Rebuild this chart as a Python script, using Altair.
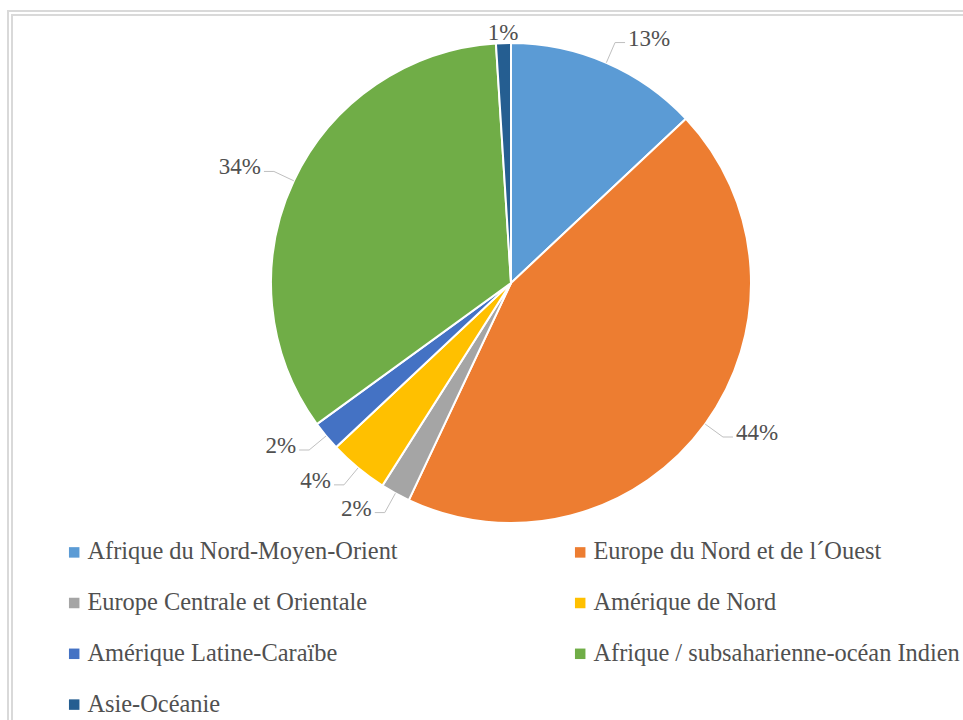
import altair as alt
import pandas as pd

regions = [
    "Afrique du Nord-Moyen-Orient",
    "Europe du Nord et de l´Ouest",
    "Europe Centrale et Orientale",
    "Amérique de Nord",
    "Amérique Latine-Caraïbe",
    "Afrique / subsaharienne-océan Indien",
    "Asie-Océanie",
]
shares = [13, 44, 2, 4, 2, 34, 1]
colors = ["#5B9BD5", "#ED7D31", "#A5A5A5", "#FFC000", "#4472C4", "#70AD47", "#255E91"]
# legend reading order (two columns, filled row by row in the reference)
legend_order = [regions[i] for i in [0, 2, 4, 6, 1, 3, 5]]

df = pd.DataFrame({"region": regions, "share": shares, "idx": list(range(len(regions)))})

CX, CY, R, R2 = 511, 283, 240, 262
FONT = "Liberation Serif"
TXT = "#505050"

xs = alt.Scale(domain=[0, 963], nice=False, zero=False)
ys = alt.Scale(domain=[720, 0], nice=False, zero=False)

base = alt.Chart(df)

arcs = base.mark_arc(outerRadius=R, stroke="white", strokeWidth=2).encode(
    theta=alt.Theta("share:Q", stack=True),
    color=alt.Color(
        "region:N",
        scale=alt.Scale(domain=regions, range=colors),
        legend=alt.Legend(
            title=None, orient="none", legendX=62, legendY=540, columns=2,
            values=legend_order,
            columnPadding=170, rowPadding=25.8, symbolType="square", symbolSize=110,
            symbolStrokeWidth=0, labelFont=FONT, labelFontSize=24.4, labelColor=TXT,
            labelOffset=1, padding=0, labelLimit=0,
        ),
    ),
    order=alt.Order("idx:Q"),
    x=alt.value(CX),
    y=alt.value(CY),
)

geo = (
    base.transform_joinaggregate(total="sum(share)")
    .transform_window(cum="sum(share)", sort=[alt.SortField("idx")], frame=[None, 0])
    .transform_calculate(
        mid="2*PI*(datum.cum - datum.share/2)/datum.total",
        s="sin(datum.mid)",
        c="cos(datum.mid)",
    )
    .transform_calculate(side="abs(datum.s) < 0.2 ? 0 : (datum.s > 0 ? 1 : -1)")
)

leaders = (
    geo.transform_filter("datum.side != 0")
    .transform_calculate(pts="[0, 1, 2]")
    .transform_flatten(["pts"])
    .transform_calculate(
        r=f"datum.pts == 0 ? {R} : {R2}",
    )
    .transform_calculate(
        px=f"{CX} + datum.r*datum.s + (datum.pts == 2 ? datum.side*10 : 0)",
        py=f"{CY} - datum.r*datum.c",
    )
    .mark_line(color="#bfbfbf", strokeWidth=1)
    .encode(
        x=alt.X("px:Q", scale=xs, axis=None),
        y=alt.Y("py:Q", scale=ys, axis=None),
        detail="region:N",
        order="pts:Q",
    )
)

lab = geo.transform_calculate(
    lbl="datum.share + '%'",
    px=f"datum.side == 0 ? {CX} + 250*datum.s : {CX} + {R2}*datum.s + datum.side*13",
    py=f"datum.side == 0 ? {CY} - 250*datum.c : {CY} - {R2}*datum.c - 4",
)

def labels(cond, align):
    return lab.transform_filter(cond).mark_text(
        font=FONT, fontSize=23, color=TXT, align=align, baseline="middle"
    ).encode(
        x=alt.X("px:Q", scale=xs, axis=None),
        y=alt.Y("py:Q", scale=ys, axis=None),
        text="lbl:N",
    )

frame_data = alt.Chart(pd.DataFrame({"k": [0]}))
frame1 = frame_data.mark_rect(fill=None, stroke="#d9d9d9", strokeWidth=2).encode(
    x=alt.value(8), y=alt.value(11), x2=alt.value(1100), y2=alt.value(900)
)
frame2 = frame_data.mark_rect(fill=None, stroke="#d9d9d9", strokeWidth=2).encode(
    x=alt.value(12), y=alt.value(15), x2=alt.value(1100), y2=alt.value(900)
)

chart = (
    alt.layer(
        frame1, frame2, arcs, leaders,
        labels("datum.side > 0", "left"),
        labels("datum.side < 0", "right"),
        labels("datum.side == 0", "center"),
    )
    .properties(width=963, height=720, padding=0, autosize=alt.AutoSizeParams(type="none"), background="white")
    .configure_view(strokeWidth=0)
)

chart.save("out.html", embed_options={"renderer": "svg", "actions": False})
